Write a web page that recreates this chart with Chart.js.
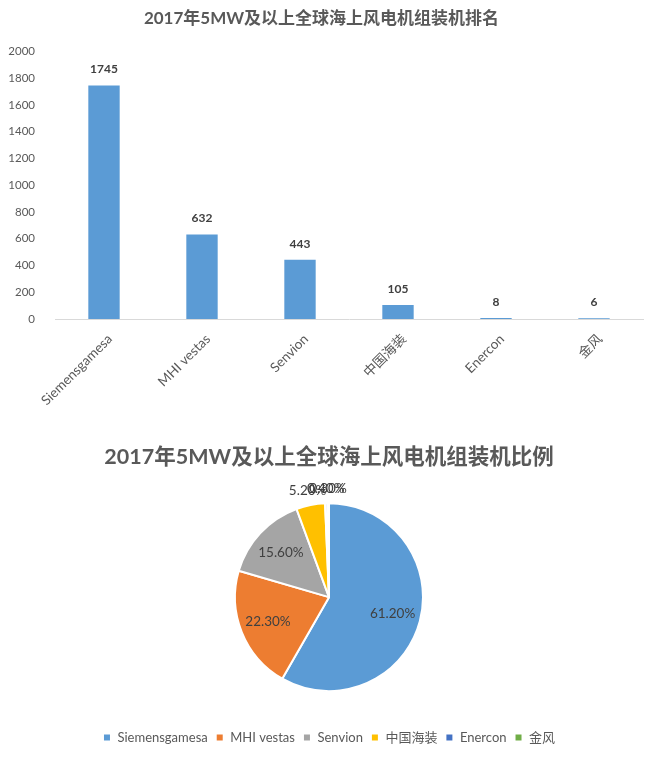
<!DOCTYPE html>
<html>
<head>
<meta charset="utf-8">
<script src="https://cdn.jsdelivr.net/npm/chart.js@4.4.1/dist/chart.umd.min.js"></script>
<style>
  html, body { margin: 0; padding: 0; background: #ffffff; }
  #barBox { position: absolute; left: 0; top: 0; width: 658px; height: 415px; }
  #pieBox { position: absolute; left: 0; top: 415px; width: 658px; height: 347px; }
</style>
</head>
<body>
<div id="barBox"><canvas id="barChart"></canvas></div>
<div id="pieBox"><canvas id="pieChart"></canvas></div>
<script>
const categories = ['Siemensgamesa', 'MHI vestas', 'Senvion', '中国海装', 'Enercon', '金风'];
const units = [1745, 632, 443, 105, 8, 6];
const shares = [61.2, 22.3, 15.6, 5.2, 0.4, 0.3];
const shareLabels = ['61.20%', '22.30%', '15.60%', '5.20%', '0.40%', '0.30%'];
const barTitle = '2017年5MW及以上全球海上风电机组装机排名';
const pieTitle = '2017年5MW及以上全球海上风电机组装机比例';
const yTicks = [0, 200, 400, 600, 800, 1000, 1200, 1400, 1600, 1800, 2000];

const FONT = "Lato, 'Noto Sans CJK SC', sans-serif";
const TXT = '#595959';
const sliceColors = ['#5B9BD5', '#ED7D31', '#A5A5A5', '#FFC000', '#4472C4', '#70AD47'];

const barValueLabels = {
  id: 'barValueLabels',
  afterDatasetsDraw(chart) {
    const ctx = chart.ctx;
    const meta = chart.getDatasetMeta(0);
    ctx.save();
    ctx.font = "bold 12px " + FONT;
    ctx.fillStyle = '#404040';
    ctx.textAlign = 'center';
    ctx.textBaseline = 'middle';
    meta.data.forEach((bar, i) => {
      ctx.fillText(String(chart.data.datasets[0].data[i]), bar.x, bar.y - 16);
    });
    ctx.restore();
  }
};

new Chart(document.getElementById('barChart'), {
  type: 'bar',
  data: {
    labels: categories,
    datasets: [{
      data: units,
      backgroundColor: '#5B9BD5',
      borderWidth: 0,
      categoryPercentage: 1,
      barPercentage: 0.32
    }]
  },
  options: {
    responsive: true,
    maintainAspectRatio: false,
    animation: false,
    layout: { padding: { left: 0, right: 15, top: 0, bottom: 0 } },
    plugins: {
      legend: { display: false },
      tooltip: { enabled: false },
      title: {
        display: true,
        text: barTitle,
        color: TXT,
        font: { family: FONT, size: 17, weight: 'bold' },
        padding: { top: 8, bottom: 23 }
      }
    },
    scales: {
      x: {
        grid: { display: false, drawTicks: false },
        border: { display: true, color: '#D9D9D9', width: 1 },
        ticks: {
          color: TXT,
          font: { family: FONT, size: 13.5 },
          minRotation: 45,
          maxRotation: 45,
          padding: 12,
          labelOffset: 6
        },
        afterFit(scale) { scale.height = 96; }
      },
      y: {
        min: 0,
        max: 2000,
        grid: { display: false, drawTicks: false },
        border: { display: false },
        afterBuildTicks(scale) { scale.ticks = yTicks.map(v => ({ value: v })); },
        ticks: {
          color: TXT,
          font: { family: FONT, size: 11.5 },
          padding: 20,
          callback: (v) => String(v)
        },
        afterFit(scale) { scale.width = 55; }
      }
    }
  },
  plugins: [barValueLabels]
});

const pieValueLabels = {
  id: 'pieValueLabels',
  afterDatasetsDraw(chart) {
    const ctx = chart.ctx;
    const meta = chart.getDatasetMeta(0);
    ctx.save();
    ctx.font = "13.5px " + FONT;
    ctx.fillStyle = '#404040';
    ctx.textAlign = 'center';
    ctx.textBaseline = 'middle';
    meta.data.forEach((arc, i) => {
      const p = arc.getProps(['x', 'y', 'startAngle', 'endAngle', 'outerRadius'], true);
      const mid = (p.startAngle + p.endAngle) / 2;
      const v = chart.data.datasets[0].data[i];
      const r = v >= 10 ? p.outerRadius * 0.7 : p.outerRadius + 15;
      ctx.fillText(shareLabels[i], p.x + Math.cos(mid) * r, p.y + Math.sin(mid) * r);
    });
    ctx.restore();
  }
};

new Chart(document.getElementById('pieChart'), {
  type: 'pie',
  data: {
    labels: categories,
    datasets: [{
      data: shares,
      backgroundColor: sliceColors,
      borderColor: '#ffffff',
      borderWidth: 2,
      radius: 94
    }]
  },
  options: {
    responsive: true,
    maintainAspectRatio: false,
    animation: false,
    layout: { padding: { left: 0, right: 0, top: 0, bottom: 8 } },
    plugins: {
      tooltip: { enabled: false },
      title: {
        display: true,
        text: pieTitle,
        color: TXT,
        font: { family: FONT, size: 21.5, weight: 'bold' },
        padding: { top: 29, bottom: 1.5 }
      },
      legend: {
        display: true,
        position: 'bottom',
        labels: {
          color: TXT,
          font: { family: FONT, size: 13 },
          boxWidth: 8,
          boxHeight: 8,
          padding: 8
        }
      }
    }
  },
  plugins: [pieValueLabels]
});
</script>
</body>
</html>
